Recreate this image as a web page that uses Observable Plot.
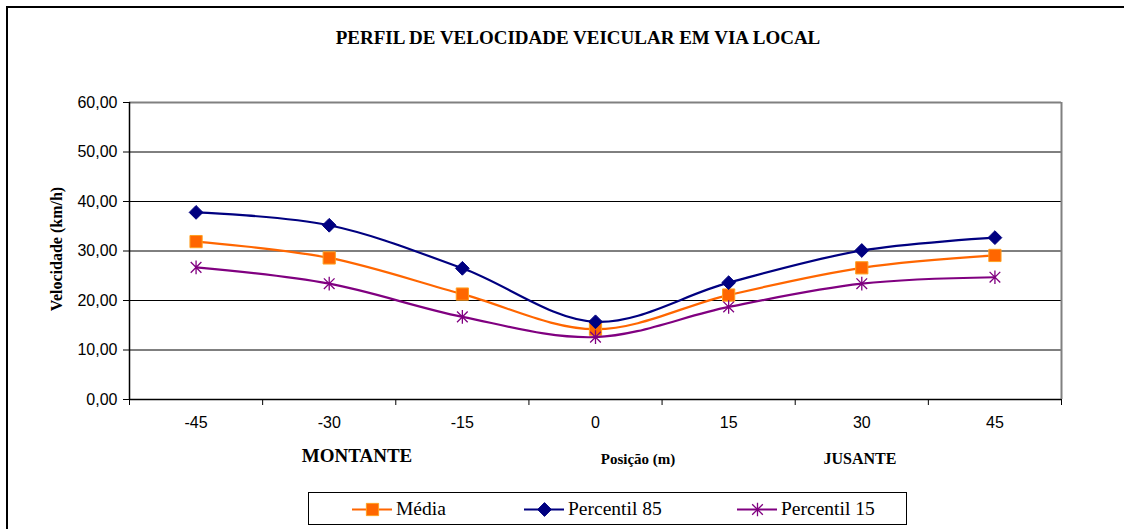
<!DOCTYPE html>
<html>
<head>
<meta charset="utf-8">
<script src="https://cdn.jsdelivr.net/npm/d3@7"></script>
<script src="https://cdn.jsdelivr.net/npm/@observablehq/plot@0.6"></script>
<style>
  html, body { margin: 0; padding: 0; background: #fff; }
  #wrap { position: relative; width: 1124px; height: 529px; overflow: hidden; background: #fff; }
  #frame { position: absolute; left: 6px; top: 6px; width: 1200px; height: 600px; border-left: 2px solid #000; border-top: 2px solid #000; }
  .lbl { position: absolute; transform: translate(-50%, -50%); white-space: nowrap; font-family: "Liberation Serif", "Times New Roman", serif; font-weight: bold; color: #000; }
  #chart { position: absolute; left: 0; top: 0; }
  #legend { position: absolute; left: 308px; top: 492px; width: 599px; height: 33px; border: 1px solid #000; box-sizing: border-box; background: #fff; }
  .item { position: absolute; top: 0; height: 31px; display: flex; align-items: center; }
  .item svg { margin-right: 4px; }
  .item span { font-family: "Liberation Serif", "Times New Roman", serif; font-size: 19.5px; color: #000; }
</style>
</head>
<body>
<div id="wrap">
  <div id="frame"></div>
  <div id="chart"></div>
  <div class="lbl" style="left:578px;top:38px;font-size:19px;">PERFIL DE VELOCIDADE VEICULAR EM VIA LOCAL</div>
  <div class="lbl" style="left:57px;top:249px;font-size:16px;transform:translate(-50%,-50%) rotate(-90deg);">Velocidade (km/h)</div>
  <div class="lbl" style="left:357px;top:456px;font-size:19px;">MONTANTE</div>
  <div class="lbl" style="left:638px;top:459px;font-size:15px;">Posição (m)</div>
  <div class="lbl" style="left:860px;top:459px;font-size:16px;">JUSANTE</div>
  <div id="legend"></div>
</div>
<script>
// ---- data ----
const positions = [-45, -30, -15, 0, 15, 30, 45];
const seriesNames = ["Média", "Percentil 85", "Percentil 15"];
const media = [31.9, 28.6, 21.3, 14.2, 21.1, 26.6, 29.1];
const p85   = [37.8, 35.2, 26.5, 15.7, 23.6, 30.1, 32.7];
const p15   = [26.7, 23.4, 16.7, 12.6, 18.7, 23.4, 24.7];
const yTicks = [0, 10, 20, 30, 40, 50, 60];

const seriesValues = [media, p85, p15];
const colors = ["#FF6600", "#000080", "#800080"];

// Excel-style star marker: X plus a vertical stroke
const star = {
  draw(ctx, size) {
    const s = Math.sqrt(size);
    const v = s * 0.6, d = s * 0.47;
    ctx.moveTo(0, -v); ctx.lineTo(0, v);
    ctx.moveTo(-d, -d); ctx.lineTo(d, d);
    ctx.moveTo(-d, d); ctx.lineTo(d, -d);
  }
};
const symbols = ["square", "diamond2", star];

const half = 7.5;
const xDomain = [positions[0] - half, positions[positions.length - 1] + half];
const boundaries = d3.range(positions.length + 1).map(i => xDomain[0] + i * 2 * half);

const rows = seriesNames.flatMap((s, i) => positions.map((p, j) => ({series: s, x: p, y: seriesValues[i][j]})));
const fmt = d => d.toFixed(2).replace(".", ",");

function markerOpts(i, extra) {
  if (i === 0) return {symbol: symbols[i], r: 6.9, fill: colors[i], stroke: "#FFA020", strokeWidth: 1, ...extra};
  if (i === 1) return {symbol: symbols[i], r: 6.2, fill: colors[i], stroke: colors[i], strokeWidth: 1, ...extra};
  return {symbol: symbols[i], r: 6.4, fill: "none", stroke: colors[i], strokeWidth: 1.3, ...extra};
}

const marks = [
  Plot.ruleY(yTicks.slice(1, -1), {stroke: "#000", strokeWidth: 1}),
  Plot.ruleY([yTicks[yTicks.length - 1]], {stroke: "#808080", strokeWidth: 2}),
  Plot.ruleX([xDomain[1]], {y1: yTicks[0], y2: yTicks[yTicks.length - 1], stroke: "#808080", strokeWidth: 2}),
  Plot.axisY({ticks: yTicks, tickSize: 6, tickPadding: 6, tickFormat: fmt, label: null, stroke: "#000"}),
  Plot.axisX({ticks: boundaries, tickSize: 6, tickFormat: () => "", label: null}),
  Plot.axisX({ticks: positions, tickSize: 0, tickPadding: 17, tickFormat: d => String(d), label: null}),
  Plot.ruleY([yTicks[0]], {stroke: "#000", strokeWidth: 1.5}),
  Plot.ruleX([xDomain[0]], {y1: yTicks[0], y2: yTicks[yTicks.length - 1], stroke: "#000", strokeWidth: 1.5})
];
seriesNames.forEach((s, i) => {
  const d = rows.filter(r => r.series === s);
  marks.push(Plot.line(d, {x: "x", y: "y", curve: "catmull-rom", stroke: colors[i], strokeWidth: 2.2}));
  marks.push(Plot.dot(d, markerOpts(i, {x: "x", y: "y"})));
});

const chart = Plot.plot({
  width: 1124,
  height: 529,
  marginTop: 102,
  marginBottom: 130,
  marginLeft: 129,
  marginRight: 63,
  style: {fontFamily: "'Liberation Sans', Arial, sans-serif", fontSize: "16px", color: "#000", background: "transparent", overflow: "visible"},
  x: {type: "linear", domain: xDomain},
  y: {domain: [yTicks[0], yTicks[yTicks.length - 1]]},
  marks
});
document.getElementById("chart").appendChild(chart);

// ---- legend ----
const legend = document.getElementById("legend");
const itemLeft = [43, 215, 428];
seriesNames.forEach((s, i) => {
  const div = document.createElement("div");
  div.className = "item";
  div.style.left = itemLeft[i] + "px";
  const sw = Plot.plot({
    width: 40, height: 20, margin: 0,
    x: {domain: [0, 1], axis: null}, y: {domain: [0, 1], axis: null},
    style: {background: "transparent", overflow: "visible"},
    marks: [
      Plot.ruleY([0.5], {x1: 0, x2: 1, stroke: colors[i], strokeWidth: 2.2}),
      Plot.dot([0.5], markerOpts(i, {x: d => d, y: 0.5}))
    ]
  });
  div.appendChild(sw);
  const t = document.createElement("span");
  t.textContent = s;
  div.appendChild(t);
  legend.appendChild(div);
});
</script>
</body>
</html>
